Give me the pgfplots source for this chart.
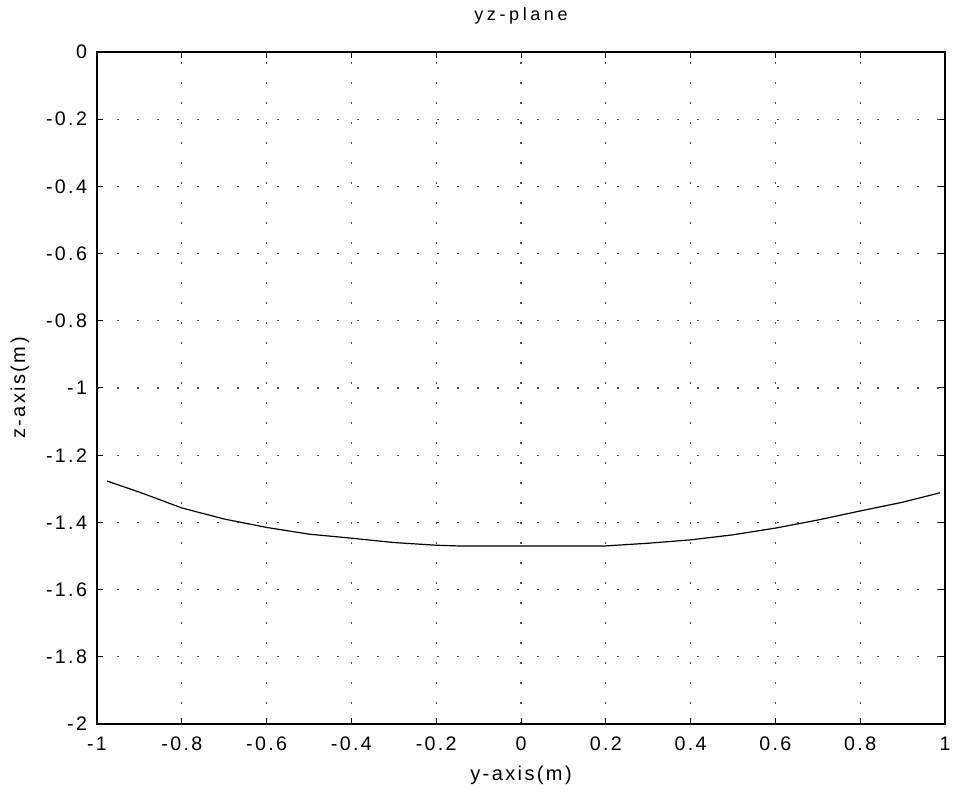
\documentclass[border=0pt]{standalone}
\usepackage{fontspec}
\setmainfont{Liberation Sans}
\usepackage{pgfplots}
\pgfplotsset{compat=1.18}

\begin{document}
\begin{tikzpicture}
\useasboundingbox (-48.5pt,-35.5pt) rectangle (428.5pt,362pt);
\begin{axis}[
    at={(0,0)}, anchor=south west,
    scale only axis,
    width=424pt, height=336pt,
    xmin=-1, xmax=1,
    ymin=-2, ymax=0,
    xtick={-1,-0.8,...,1.01},
    ytick={-2,-1.8,...,0.01},
    xticklabels={-1,-0.8,-0.6,-0.4,-0.2,0,0.2,0.4,0.6,0.8,1},
    yticklabels={-2,-1.8,-1.6,-1.4,-1.2,-1,-0.8,-0.6,-0.4,-0.2,0},
    tick align=inside,
    major tick length=3pt,
    tick style={black, line width=0.5pt},
    axis line style={black, line width=0.6pt},
    grid=major,
    grid style={black!70, line width=0.6pt, dash pattern=on 1pt off 9pt},
    tick label style={font=\fontsize{9.8}{10}\selectfont\addfontfeature{LetterSpace=12}},
    xticklabel style={yshift=-3pt},
    yticklabel style={xshift=-1.5pt},
    title={yz-plane},
    title style={at={(0.5,1)}, anchor=center, yshift=12pt, font=\fontsize{9}{10}\selectfont\addfontfeature{LetterSpace=20}},
    xlabel={y-axis(m)},
    ylabel={z-axis(m)},
    xlabel style={at={(0.5,0)}, anchor=center, yshift=-25.5pt, font=\fontsize{10}{11}\selectfont\addfontfeature{LetterSpace=12}},
    ylabel style={at={(0,0.5)}, anchor=center, yshift=38.5pt, font=\fontsize{10}{11}\selectfont\addfontfeature{LetterSpace=12}},
    /pgf/number format/assume math mode=true,
]
\addplot[black, line width=0.6pt] coordinates {
    (-0.976,-1.277) (-0.9,-1.31) (-0.8,-1.357) (-0.7,-1.39) (-0.6,-1.415)
    (-0.5,-1.435) (-0.4,-1.447) (-0.3,-1.46) (-0.2,-1.468) (-0.15,-1.47)
    (0,-1.47) (0.2,-1.47) (0.3,-1.462) (0.4,-1.452) (0.5,-1.437)
    (0.6,-1.417) (0.7,-1.393) (0.8,-1.366) (0.9,-1.34) (0.988,-1.312)
};
\end{axis}
\end{tikzpicture}
\end{document}
